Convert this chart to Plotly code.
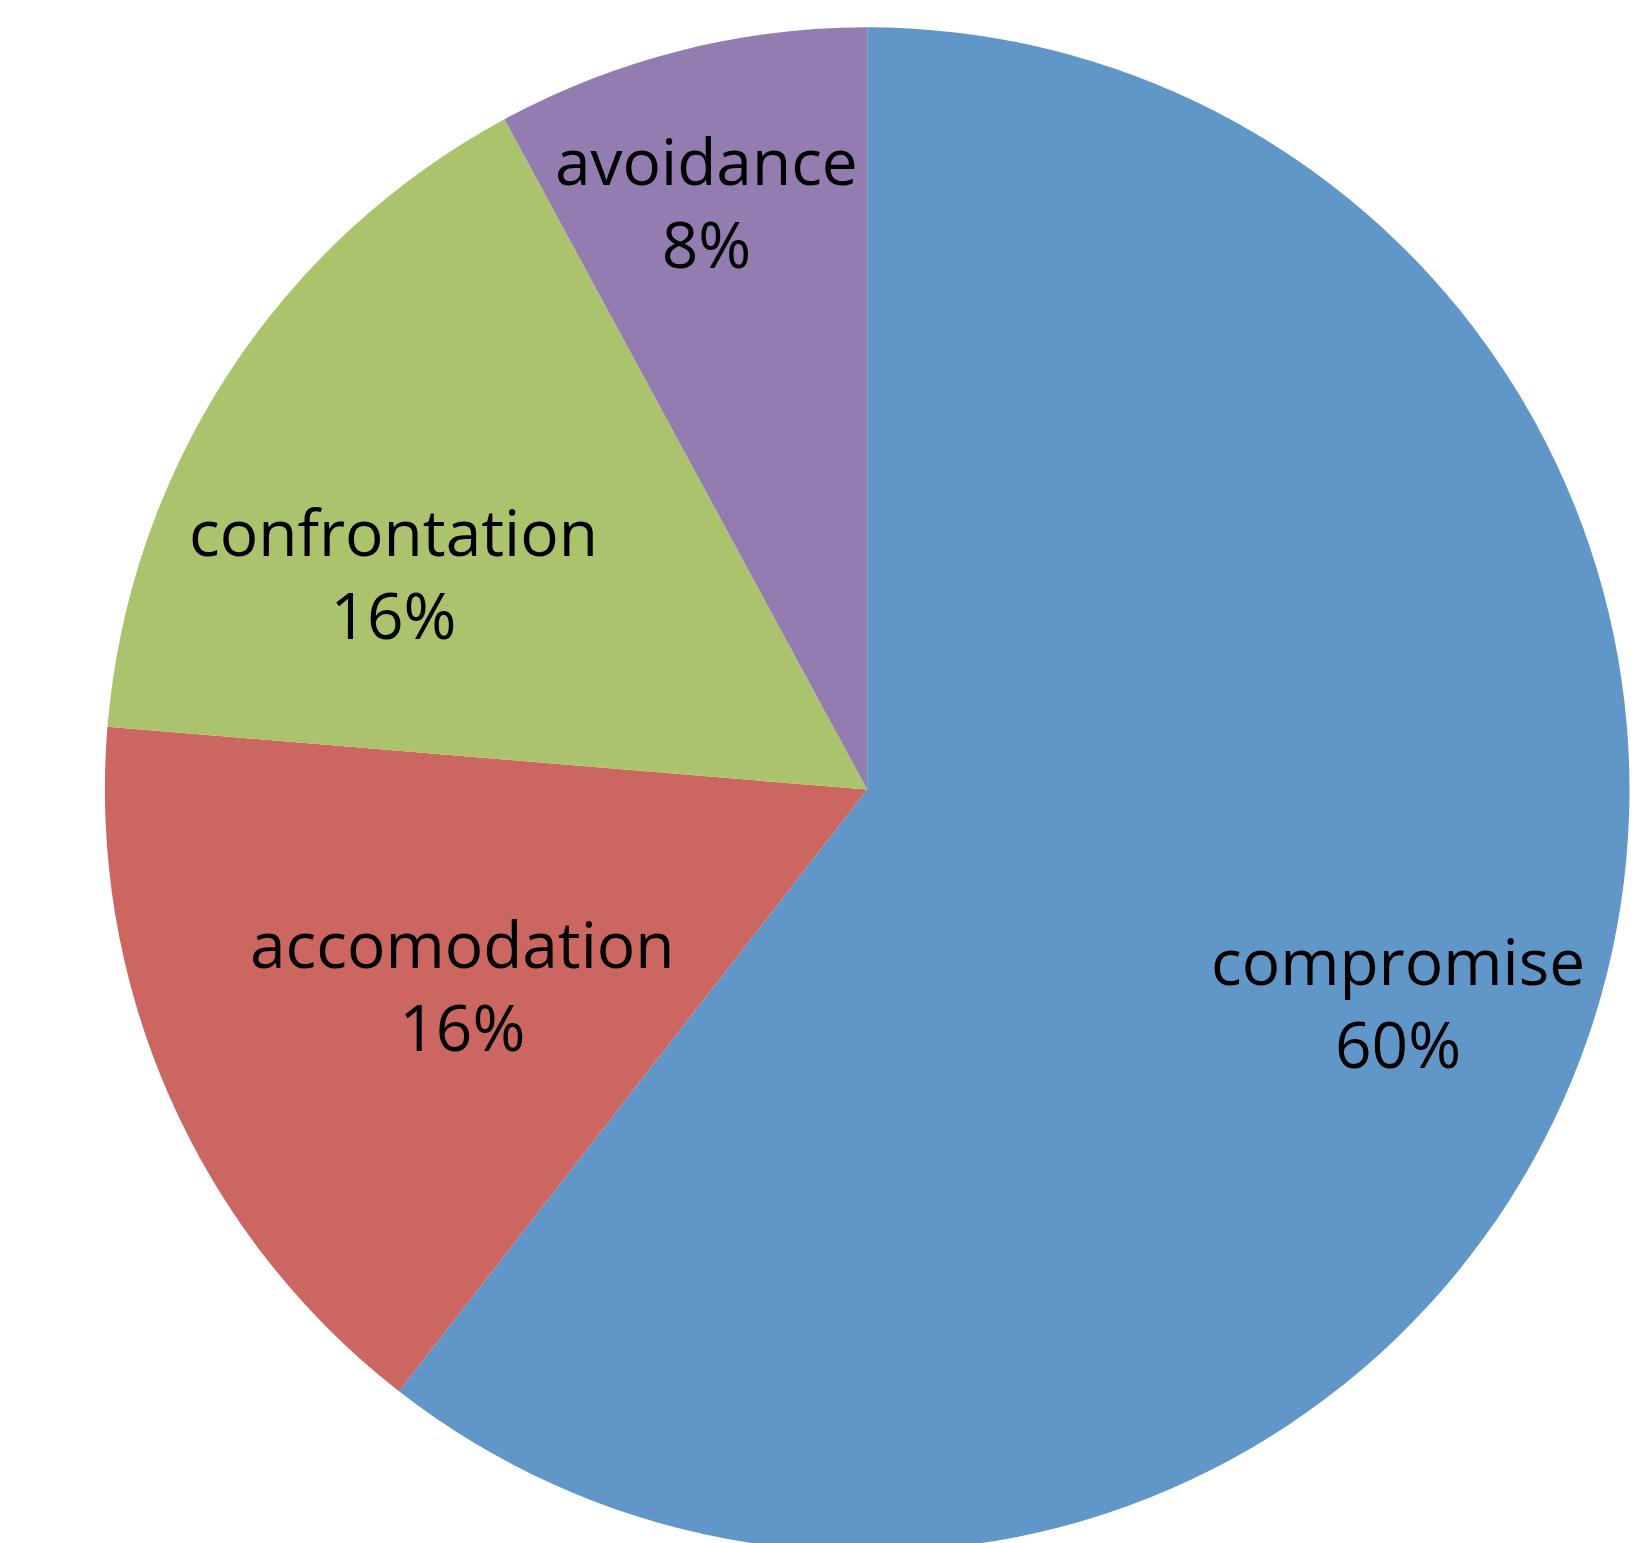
import plotly.graph_objects as go

# Data
categories = ["compromise", "accomodation", "confrontation", "avoidance"]
counts = [23, 6, 6, 3]
percent_labels = ["60%", "16%", "16%", "8%"]
colors = ["#6196C8", "#CC6660", "#AAC36C", "#937CB0"]

# Layout geometry (pixels)
W, H = 1644, 1580
cx, cy, r = 867.2, 789.6, 762.3
# label block centers (x, y) in pixels
label_pos = [(1397.5, 1002), (462, 985), (393, 573), (706.5, 202)]
FONT = dict(family="Open Sans, Lato, sans-serif", size=64, color="#000000")

fig = go.Figure(
    go.Pie(
        labels=categories,
        values=counts,
        sort=False,
        direction="clockwise",
        rotation=0,
        textinfo="none",
        hoverinfo="label+percent",
        marker=dict(colors=colors, line=dict(width=0)),
        domain=dict(x=[(cx - r) / W, (cx + r) / W], y=[1 - (cy + r) / H, 1 - (cy - r) / H]),
        showlegend=False,
    )
)

annotations = []
for name, pct, (px, py) in zip(categories, percent_labels, label_pos):
    annotations.append(
        dict(
            text=f"{name}<br>{pct}",
            x=px / W,
            y=1 - py / H,
            xref="paper",
            yref="paper",
            xanchor="center",
            yanchor="middle",
            showarrow=False,
            align="center",
            font=FONT,
        )
    )

fig.update_layout(
    width=W,
    height=H,
    margin=dict(l=0, r=0, t=0, b=0),
    paper_bgcolor="white",
    plot_bgcolor="white",
    annotations=annotations,
)

fig.write_html(
    "out.html",
    post_script="document.body.style.margin='0';document.body.style.overflow='hidden';document.documentElement.style.overflow='hidden';",
)
